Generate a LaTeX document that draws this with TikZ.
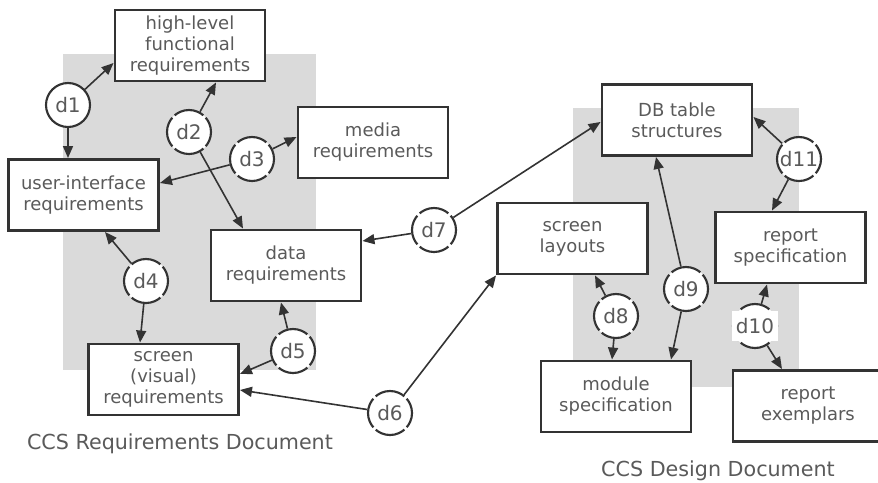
\documentclass[tikz,border=0pt]{standalone}
\usepackage{fontspec}
\setmainfont{DejaVu Sans}
\usetikzlibrary{arrows.meta}
\definecolor{ink}{HTML}{333333}
\definecolor{txt}{HTML}{5A5A5A}
\definecolor{papergray}{HTML}{DADADA}
\begin{document}
\begin{tikzpicture}[x=0.75pt,y=-0.75pt,
  box/.style={draw=ink, line width=2.2pt, fill=white, minimum width=112.5pt, minimum height=53.25pt, align=center, text=txt, font=\fontsize{13.5}{15.75}\selectfont, inner sep=0pt},
  dnode/.style={circle, draw=ink, line width=1.6pt, fill=white, minimum size=33pt, inner sep=0pt, text=txt, font=\fontsize{15}{18}\selectfont, dash pattern=on 23.4pt off 2.5pt, dash phase=11.7pt},
  dlabel/.style={fill=white, minimum width=34.5pt, minimum height=22.5pt, inner sep=0pt, text=txt, font=\fontsize{15}{18}\selectfont},
  conn/.style={draw=ink, line width=1.2pt, -{Triangle[length=9pt,width=7.5pt]}},
  title/.style={text=txt, font=\fontsize{15.5}{18}\selectfont}]
\useasboundingbox (0,0) rectangle (878,482);
\fill[white] (0,0) rectangle (878,482);
% shaded documents
\fill[papergray] (63,54) rectangle (316,370);
\fill[papergray] (573,108) rectangle (799,387);
% boxes
\node[box] (hlf) at (190,45.5) {high-level\\functional\\requirements};
\node[box] (ui) at (83.5,195) {user-interface\\requirements};
\node[box] (media) at (373,142.5) {media\\requirements};
\node[box] (data) at (286,265.5) {data\\requirements};
\node[box] (scr) at (163.5,379.5) {screen\\(visual)\\requirements};
\node[box] (db) at (677,120) {DB table\\structures};
\node[box] (lay) at (572.5,238.5) {screen\\layouts};
\node[box] (rspec) at (790.5,247.5) {report\\specification};
\node[box] (mod) at (616,396.5) {module\\specification};
\node[box] (rex) at (808,406) {report\\exemplars};
% dependency circles
\node[dnode, solid] (d1) at (68,105) {d1};
\node[dnode] (d2) at (189,132) {d2};
\node[dnode] (d3) at (252,159) {d3};
\node[dnode] (d4) at (146,281) {d4};
\node[dnode] (d5) at (293,351) {d5};
\node[dnode] (d6) at (390,413) {d6};
\node[dnode] (d7) at (434,230) {d7};
\node[dnode] (d8) at (616,316) {d8};
\node[dnode] (d9) at (686,289) {d9};
\node[dnode] (d10) at (755,326) {};
\node[dlabel] (d10t) at (d10) {d10};
\node[dnode] (d11) at (799,159) {d11};
% connectors
\draw[conn] (d1) -- (hlf.west |- 0,63);
\draw[conn] (d1) -- (ui.north -| 68,0);
\draw[conn] (d2) -- (hlf.south -| 216,0);
\draw[conn] (d2) -- (data.north -| 243,0);
\draw[conn] (d3) -- (media.west |- 0,137);
\draw[conn] (d3) -- (ui.east |- 0,183);
\draw[conn] (d4) -- (ui.south -| 105,0);
\draw[conn] (d4) -- (scr.north -| 140,0);
\draw[conn] (d5) -- (data.south -| 281,0);
\draw[conn] (d5) -- (scr.east |- 0,374);
\draw[conn] (d6) -- (scr.east |- 0,390);
\draw[conn] (d6) -- (lay.south west);
\draw[conn] (d7) -- (data.east |- 0,241);
\draw[conn] (d7) -- (db.west |- 0,122);
\draw[conn] (d8) -- (lay.south -| 595,0);
\draw[conn] (d8) -- (mod.north -| 612,0);
\draw[conn] (d9) -- (db.south -| 656,0);
\draw[conn] (d9) -- (mod.north -| 671,0);
\draw[conn] (d10) -- (rspec.south -| 767,0);
\draw[conn] (d10) -- (rex.north -| 782,0);
\draw[conn] (d11) -- (db.east |- 0,117);
\draw[conn] (d11) -- (rspec.north -| 772,0);
% titles
\node[title] (t1) at (180,444) {CCS Requirements Document};
\node[title] (t2) at (718,471) {CCS Design Document};
\end{tikzpicture}
\end{document}
